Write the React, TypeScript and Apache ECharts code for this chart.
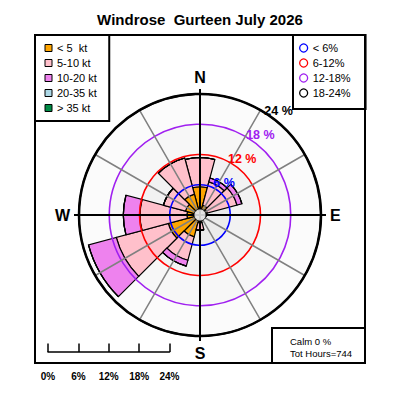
import React, { useEffect, useRef } from "react";
import * as echarts from "echarts";

// ---- data ----
const DIRECTIONS = ["0", "30", "60", "90", "120", "150", "180", "210", "240", "270", "300", "330"];
const SPEED_CLASSES = ["< 5  kt", "5-10 kt", "10-20 kt", "20-35 kt", "> 35 kt"];
const SPEED_COLORS = ["#FFA500", "#FFC0CB", "#EE82EE", "#ADD8E6", "#008B45"];
const FREQ_LT5 = [5.6, 2.0, 1.5, 1.0, 0.6, 0.8, 1.5, 4.5, 6.5, 2.6, 3.0, 4.3];
const FREQ_5_10 = [5.8, 4.8, 6.1, 0.2, 0, 0, 1.5, 4.8, 10.7, 9.3, 4.5, 7.4];
const FREQ_10_20 = [0, 0.8, 1.0, 0, 0, 0, 0, 1.2, 5.7, 3.3, 0, 0];
const FREQ_20_35 = [0, 0, 0, 0, 0, 0, 0, 0, 0, 0, 0, 0];
const FREQ_GT35 = [0, 0, 0, 0, 0, 0, 0, 0, 0, 0, 0, 0];
const SPEED_DATA = [FREQ_LT5, FREQ_5_10, FREQ_10_20, FREQ_20_35, FREQ_GT35];

const RING_LEVELS = [6, 12, 18, 24];
const RING_NAMES = ["< 6%", "6-12%", "12-18%", "18-24%"];
const RING_COLORS = ["#0000FF", "#FF0000", "#A020F0", "#000000"];
const COMPASS = ["N", "E", "S", "W"];
const CALM = 0;
const TOT_HOURS = 744;
const TITLE = "Windrose  Gurteen July 2026";

const FONT = "'Liberation Sans', Arial, Helvetica, sans-serif";
const CENTER = [200, 215];
const R = 121;
const RMAX = 24;
const LABEL_OFFSET = 1.9;
const LABEL_ANGLE = 37;

export default function App() {
  const ref = useRef<HTMLDivElement>(null);
  useEffect(() => {
    document.body.style.margin = "0";
    const chart = echarts.init(ref.current!, null, { renderer: "svg", width: 400, height: 400 });
    const hidden = { axisLine: { show: false }, axisTick: { show: false }, axisLabel: { show: false }, splitLine: { show: false } };

    const barSeries = SPEED_CLASSES.map((name, i) => ({
      type: "bar",
      name,
      coordinateSystem: "polar",
      polarIndex: 0,
      stack: "ws",
      barCategoryGap: "0%",
      data: SPEED_DATA[i],
      itemStyle: { color: SPEED_COLORS[i], borderColor: "#000", borderWidth: 1.2 },
      z: 2,
      silent: true,
    }));

    const labelSeries = RING_LEVELS.map((lv, i) => ({
      type: "scatter",
      name: RING_NAMES[i],
      coordinateSystem: "polar",
      polarIndex: 1,
      clip: false,
      symbolSize: 1,
      itemStyle: { color: "#fff", opacity: 1 },
      data: [[lv + LABEL_OFFSET, LABEL_ANGLE]],
      label: {
        show: true,
        position: "inside",
        formatter: `${lv} %`,
        color: RING_COLORS[i],
        textBorderWidth: 0,
        textBorderColor: "transparent",
        opacity: 1,
        fontWeight: "bold",
        fontSize: 12.5,
        fontFamily: FONT,
      },
      z: 10,
      silent: true,
    }));

    const option: any = {
      animation: false,
      backgroundColor: "#fff",
      title: {
        text: TITLE,
        left: "center",
        top: 12,
        padding: 0,
        textStyle: { fontSize: 15, fontWeight: "bold", fontFamily: FONT, color: "#000" },
      },
      polar: [
        { center: CENTER, radius: R },
        { center: CENTER, radius: R },
        { center: CENTER, radius: 126 },
      ],
      angleAxis: [
        { polarIndex: 0, type: "category", data: DIRECTIONS, startAngle: 105, clockwise: true, boundaryGap: true, ...hidden, z: 1 },
        {
          polarIndex: 1, type: "value", min: 0, max: 360, interval: 30, startAngle: 90, clockwise: true,
          axisLine: { show: true, lineStyle: { color: "#000", width: 2.5 } },
          axisTick: { show: false }, axisLabel: { show: false },
          splitLine: { show: true, lineStyle: { color: "#808080", width: 1.5 } },
          z: 4,
        },
        {
          polarIndex: 2, type: "value", min: 0, max: 360, interval: 90, startAngle: 90, clockwise: true,
          axisLine: { show: false }, axisTick: { show: false },
          axisLabel: {
            show: true, margin: 4, fontSize: 16, fontWeight: "bold", color: "#000", fontFamily: FONT,
            formatter: (v: number) => (v % 90 === 0 && v < 360 ? COMPASS[v / 90] : ""),
          },
          splitLine: { show: true, lineStyle: { color: "#000", width: 2 } },
          z: 5,
        },
      ],
      radiusAxis: [
        {
          polarIndex: 0, type: "value", min: 0, max: RMAX, interval: 6, ...hidden,
          splitArea: { show: true, areaStyle: { color: ["#ebebeb", "#f2f2f2", "#f7f7f7", "#fbfbfb"] } },
          z: 0,
        },
        {
          polarIndex: 1, type: "value", min: 0, max: RMAX, interval: 6,
          axisLine: { show: false }, axisTick: { show: false }, axisLabel: { show: false },
          splitLine: { show: true, lineStyle: { color: ["transparent", ...RING_COLORS], width: 1.6 } },
          z: 4,
        },
        { polarIndex: 2, type: "value", min: 0, max: RMAX, ...hidden },
      ],
      grid: { left: 48, width: 121.5, top: 300, height: 52 },
      xAxis: {
        type: "value", min: 0, max: RMAX, interval: 6,
        axisLine: { show: true, lineStyle: { color: "#000", width: 1.5 } },
        axisTick: { show: true, inside: true, length: 8.5, lineStyle: { color: "#000", width: 1.5 } },
        axisLabel: { formatter: "{value}%", margin: 19, fontWeight: "bold", fontSize: 10, color: "#000", fontFamily: FONT },
        splitLine: { show: false },
      },
      yAxis: { type: "value", show: false, min: 0, max: 1 },
      legend: [
        {
          data: SPEED_CLASSES.map((n) => ({ name: n, icon: "rect" })),
          orient: "vertical", left: 35, top: 35,
          itemWidth: 7, itemHeight: 7, itemGap: 2,
          padding: [6.5, 12.5, 6.5, 9.5],
          borderColor: "#000", borderWidth: 2, borderRadius: 0, backgroundColor: "#fff",
          textStyle: { fontSize: 11, lineHeight: 13, color: "#000", fontFamily: FONT },
          itemStyle: { borderColor: "#000", borderWidth: 1 },
          selectedMode: false,
        },
        {
          data: RING_NAMES.map((n, i) => ({
            name: n, icon: "circle",
            itemStyle: { color: "#fff", borderColor: RING_COLORS[i], borderWidth: 1.3 },
          })),
          orient: "vertical", left: 293, top: 35,
          itemWidth: 8, itemHeight: 8, itemGap: 2,
          padding: [6.5, 15, 9.5, 6],
          borderColor: "#000", borderWidth: 2, borderRadius: 0, backgroundColor: "#fff",
          textStyle: { fontSize: 11, lineHeight: 13, color: "#000", fontFamily: FONT },
          selectedMode: false,
        },
      ],
      graphic: [
        { type: "rect", shape: { x: 35, y: 35, width: 330, height: 328 }, style: { fill: "none", stroke: "#000", lineWidth: 2 }, z: 20, silent: true },
        { type: "rect", shape: { x: 272, y: 328, width: 93, height: 35 }, style: { fill: "#fff", stroke: "#000", lineWidth: 2 }, z: 21, silent: true },
        {
          type: "text", x: 290, y: 335, z: 22, silent: true,
          style: { text: `Calm ${CALM} %\nTot Hours=${TOT_HOURS}`, fontSize: 9.5, lineHeight: 12, fill: "#000", fontFamily: FONT },
        },
      ],
      series: [
        ...barSeries,
        ...labelSeries,
        {
          type: "scatter", name: "hub", coordinateSystem: "polar", polarIndex: 1,
          data: [[0, 0]], symbolSize: 12,
          itemStyle: { color: "#fff", borderColor: "#000", borderWidth: 1 },
          z: 12, silent: true,
        },
      ],
    };
    chart.setOption(option);
    return () => chart.dispose();
  }, []);
  return <div ref={ref} style={{ width: 400, height: 400 }} />;
}
